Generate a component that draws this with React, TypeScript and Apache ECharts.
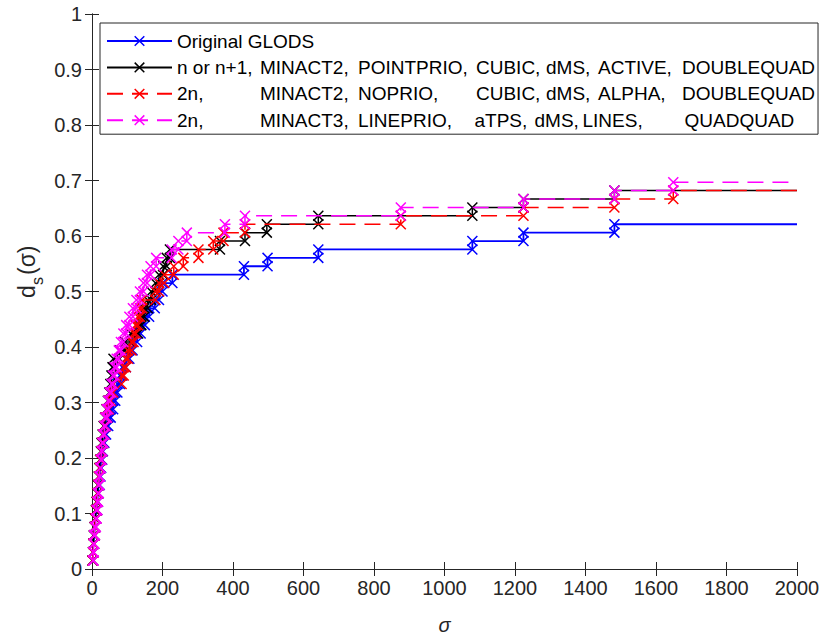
import React, { useEffect, useRef } from 'react';
import * as echarts from 'echarts';

// ---- data ----
const nProblems = 66;
const sigmaMax = 2000;

const seriesNames = [
  'Original GLODS',
  'n or n+1, MINACT2, POINTPRIO, CUBIC, dMS, ACTIVE, DOUBLEQUAD',
  '2n,         MINACT2, NOPRIO,      CUBIC, dMS, ALPHA,  DOUBLEQUAD',
  '2n,         MINACT3, LINEPRIO,    aTPS,   dMS, LINES,    QUADQUAD',
];
const seriesColors = ['#0000ff', '#000000', '#ff0000', '#ff00ff'];

// budget (sigma) at which the profile steps up, and number of problems solved after the step
const glodsSigma = [2, 3, 4, 6, 8, 10, 12, 15, 17, 19, 22, 24, 26, 29, 31, 35, 40, 46, 53, 60, 66, 72, 79, 86, 96, 106, 115, 128, 138, 150, 162, 178, 190, 200, 228, 431, 498, 642, 1079, 1224, 1482];
const glodsSolved = [1, 2, 3, 4, 5, 6, 7, 8, 9, 10, 11, 12, 13, 14, 15, 16, 17, 18, 19, 20, 21, 22, 23, 24, 25, 26, 27, 28, 29, 30, 31, 32, 33, 34, 35, 36, 37, 38, 39, 40, 41];

const pointprioSigma = [2, 3, 4, 5, 7, 9, 11, 13, 15, 17, 19, 21, 23, 25, 27, 30, 33, 37, 41, 45, 49, 52, 55, 58, 61, 78, 94, 110, 131, 140, 148, 158, 168, 180, 190, 202, 212, 221, 363, 434, 496, 642, 1079, 1224, 1482];
const pointprioSolved = [1, 2, 3, 4, 5, 6, 7, 8, 9, 10, 11, 12, 13, 14, 15, 16, 17, 18, 19, 20, 21, 22, 23, 24, 25, 26, 27, 28, 29, 30, 31, 32, 33, 34, 35, 36, 37, 38, 39, 40, 41, 42, 43, 44, 45];

const noprioSigma = [2, 3, 4, 6, 8, 10, 12, 14, 16, 18, 20, 22, 24, 27, 29, 32, 35, 39, 43, 48, 53, 60, 84, 90, 96, 102, 112, 118, 124, 130, 136, 142, 180, 190, 205, 232, 259, 302, 344, 373, 434, 876, 1224, 1482, 1649];
const noprioSolved = [1, 2, 3, 4, 5, 6, 7, 8, 9, 10, 11, 12, 13, 14, 15, 16, 17, 18, 19, 20, 21, 22, 23, 24, 25, 26, 27, 28, 29, 30, 31, 32, 33, 34, 35, 36, 37, 38, 39, 40, 41, 42, 43, 44, 45];

const lineprioSigma = [3, 4, 5, 6, 8, 11, 13, 15, 17, 19, 21, 23, 25, 27, 29, 32, 35, 38, 42, 46, 50, 55, 59, 64, 70, 76, 82, 89, 97, 106, 116, 126, 136, 146, 156, 166, 182, 226, 245, 269, 377, 434, 876, 1224, 1482, 1649];
const lineprioSolved = [1, 2, 3, 4, 5, 6, 7, 8, 9, 10, 11, 12, 13, 14, 15, 16, 17, 18, 19, 20, 21, 22, 23, 24, 25, 26, 27, 28, 29, 30, 31, 32, 33, 34, 35, 36, 37, 38, 39, 40, 41, 42, 43, 44, 45, 46];

const xTicks = { min: 0, max: 2000, interval: 200 };
const yTicks = { min: 0, max: 1, interval: 0.1 };

// ---- helpers ----
function stairs(sig: number[], solved: number[]) {
  const pts: any[] = [];
  let prev: number | null = null;
  sig.forEach((s, i) => {
    const y = solved[i] / nProblems;
    if (prev !== null) pts.push([s, prev]);
    pts.push([s, y]);
    prev = y;
  });
  pts.push({ value: [sigmaMax, prev], symbol: 'none' });
  return pts;
}

const FONT = 'Liberation Sans, Arial, Helvetica, sans-serif';
const AXIS_COLOR = '#262626';
const XMARK = 'path://M0,0L10,10M10,0L0,10';

const rowAKeys = ['a1', 'a2', 'a3', 'a4', 'a5', 'a6', 'a7'];
const rowBKeys = ['b1', 'b2', 'b3', 'b4', 'b5', 'b6', 'b7'];
const colWidthsA = [83, 98, 118, 70, 52, 84];
const colWidthsB = [83, 98, 116.5, 60, 48, 102];

function richStyles() {
  const base = { fontSize: 19, fontFamily: FONT, color: '#000', lineHeight: 20 };
  const r: any = {};
  rowAKeys.forEach((k, i) => (r[k] = i < colWidthsA.length ? { ...base, width: colWidthsA[i] } : { ...base }));
  rowBKeys.forEach((k, i) => (r[k] = i < colWidthsB.length ? { ...base, width: colWidthsB[i] } : { ...base }));
  r.p = { ...base };
  return r;
}

export default function App() {
  const ref = useRef<HTMLDivElement>(null);
  useEffect(() => {
    if (!ref.current) return;
    const chart = echarts.init(ref.current, undefined, { renderer: 'svg' });
    const sigmas = [glodsSigma, pointprioSigma, noprioSigma, lineprioSigma];
    const solveds = [glodsSolved, pointprioSolved, noprioSolved, lineprioSolved];
    const dashed = [false, false, true, true];

    const axisLine = { show: true, lineStyle: { color: AXIS_COLOR, width: 1 } };
    const axisTick = { show: true, inside: true, length: 7, lineStyle: { color: AXIS_COLOR, width: 1 } };

    const option: any = {
      animation: false,
      backgroundColor: '#ffffff',
      grid: { left: 92, right: 26, top: 14, bottom: 69, containLabel: false },
      xAxis: [
        {
          type: 'value', position: 'bottom', ...xTicks,
          axisLine, axisTick, splitLine: { show: false },
          axisLabel: { fontSize: 20, color: AXIS_COLOR, fontFamily: FONT, margin: 9, formatter: (v: number) => String(v) },
          name: 'σ', nameLocation: 'middle', nameGap: 46,
          nameTextStyle: { fontSize: 20, color: AXIS_COLOR, fontFamily: FONT, fontStyle: 'italic' },
        },
        {
          type: 'value', position: 'top', ...xTicks,
          axisLine, axisTick, splitLine: { show: false }, axisLabel: { show: false },
        },
      ],
      yAxis: [
        {
          type: 'value', position: 'left', ...yTicks,
          axisLine, axisTick, splitLine: { show: false },
          axisLabel: { fontSize: 20, color: AXIS_COLOR, fontFamily: FONT, margin: 10 },
        },
        {
          type: 'value', position: 'right', ...yTicks,
          axisLine, axisTick, splitLine: { show: false }, axisLabel: { show: false },
        },
      ],
      legend: {
        orient: 'vertical', left: 100, top: 23,
        itemWidth: 65, itemHeight: 12, itemGap: 6.4,
        padding: [8, 3, 4, 6],
        backgroundColor: '#ffffff', borderColor: AXIS_COLOR, borderWidth: 1,
        itemStyle: { borderWidth: 1.5 },
        textStyle: { fontSize: 19, fontFamily: FONT, color: '#000', lineHeight: 20, rich: richStyles() },
        data: seriesNames,
        selectedMode: false,
        formatter: (name: string) => {
          const idx = seriesNames.indexOf(name);
          if (idx <= 0) return `{p|${name}}`;
          const parts = name.split(',').map((s) => s.trim());
          const keys = idx === 3 ? rowBKeys : rowAKeys;
          return parts.map((p, i) => `{${keys[i]}|${p}${i < parts.length - 1 ? ',' : ''}}`).join('');
        },
      },
      graphic: [
        {
          type: 'group', x: 27, y: 298, rotation: Math.PI / 2, silent: true,
          children: [
            { type: 'text', x: 0, y: 0, style: { text: 'd', fontSize: 23, fontFamily: FONT, fill: AXIS_COLOR, verticalAlign: 'middle', align: 'left' } },
            { type: 'text', x: 13, y: 10, style: { text: 's', fontSize: 16, fontFamily: FONT, fill: AXIS_COLOR, verticalAlign: 'middle', align: 'left' } },
            { type: 'text', x: 23, y: 0, style: { text: '(σ)', fontSize: 23, fontFamily: FONT, fill: AXIS_COLOR, verticalAlign: 'middle', align: 'left' } },
          ],
        },
      ],
      series: seriesNames.map((name, i) => ({
        name, type: 'line', xAxisIndex: 0, yAxisIndex: 0,
        data: stairs(sigmas[i], solveds[i]),
        symbol: XMARK, symbolSize: 10, showSymbol: true,
        lineStyle: { color: seriesColors[i], width: i === 0 ? 1.8 : 1.5, type: dashed[i] ? [16, 9] : 'solid' },
        itemStyle: { color: seriesColors[i], borderColor: seriesColors[i], borderWidth: 1.5 },
        emphasis: { disabled: true }, silent: true, clip: true, z: 2 + i,
      })),
    };
    chart.setOption(option);
    return () => chart.dispose();
  }, []);
  return <div ref={ref} style={{ position: 'fixed', left: 0, top: 0, width: 823, height: 640, background: '#fff' }} />;
}
